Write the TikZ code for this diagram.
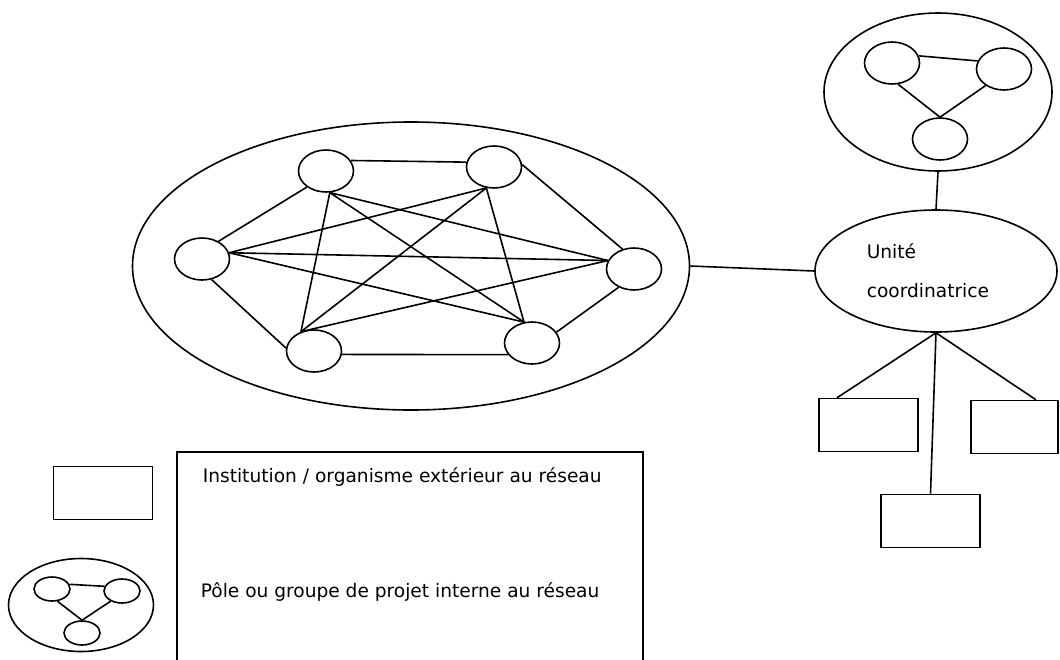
\documentclass[tikz,border=0pt]{standalone}
\usepackage{fontspec}
\setmainfont{DejaVu Sans}
\usetikzlibrary{shapes.geometric}
\begin{document}
\begin{tikzpicture}[x=1pt, y=-1pt, line width=1.6pt,
    pole/.style={draw, ellipse, minimum width=55pt, minimum height=42pt, inner sep=0pt},
    minipole/.style={draw, ellipse, minimum width=36pt, minimum height=24pt, inner sep=0pt},
    institution/.style={draw, rectangle, minimum width=99pt, minimum height=53pt, inner sep=0pt},
    legendtext/.style={anchor=base west, inner sep=0pt, font=\fontsize{18.6}{22}\selectfont}]
  \useasboundingbox (0,0) rectangle (1060,659);
  % reseau des poles
  \node[draw, ellipse, minimum width=557pt, minimum height=288pt] (reseau) at (411,266) {};
  \node[pole] (A) at (326,171) {};
  \node[pole] (B) at (494,167) {};
  \node[pole] (C) at (202,259) {};
  \node[pole] (D) at (634,269) {};
  \node[pole] (E) at (314,351) {};
  \node[pole] (F) at (532,343) {};
  \draw (A.23) -- (B.170);
  \draw (A.220) -- (C.47);
  \draw (C.-65) -- (E.174);
  \draw (E.-7) -- (F.206);
  \draw (B.5) -- (D.120);
  \draw (D.230) -- (F.24);
  \foreach \from/\to in {A.-80/E.124, A.-80/D.162, A.-80/F.111, C.13/B.250, C.13/D.162,
      C.13/F.111, E.124/B.250, E.124/D.162, B.250/F.111}
    \draw (\from) -- (\to);
  % pole de l'unite
  \node[draw, ellipse, minimum width=228pt, minimum height=158pt] (pole) at (938,92) {};
  \node[pole] (G1) at (892,63) {};
  \node[pole] (G2) at (1004,69) {};
  \node[pole] (G3) at (940,139) {};
  \draw (G1.15) -- (G2.163);
  \draw (G1.-74) -- (G3.north);
  \draw (G2.222) -- (G3.north);
  % unite coordinatrice
  \node[draw, ellipse, minimum width=242pt, minimum height=122pt] (unite) at (936,271) {};
  \node[legendtext] (unite1) at (866,258) {Unité};
  \node[legendtext] (unite2) at (866,297) {coordinatrice};
  \draw (pole.south) -- (unite.north);
  \draw (reseau.east) -- (unite.west);
  \node[institution] (X1) at (868.5,425) {};
  \node[institution, minimum width=87pt] (X2) at (1014.5,427) {};
  \node[institution] (X3) at (930.5,521) {};
  \draw (unite.south) -- (X1.139);
  \draw (unite.south) -- (X2.52);
  \draw (unite.south) -- (X3.north);
  % legende
  \node[institution] (legendbox) at (103,493) {};
  \node[draw, ellipse, minimum width=145pt, minimum height=93pt] (legendpole) at (81,605) {};
  \node[minipole] (L1) at (52,589) {};
  \node[minipole] (L2) at (122,591) {};
  \node[minipole] (L3) at (82,633) {};
  \draw (L1.15) -- (L2.165);
  \draw (L1.-66) -- (L3.north);
  \draw (L2.222) -- (L3.north);
  \draw (177,452) rectangle (643,665);
  \node[legendtext] (insttext) at (202,482) {Institution / organisme extérieur au réseau};
  \node[legendtext] (poletext) at (200,597) {Pôle ou groupe de projet interne au réseau};
\end{tikzpicture}
\end{document}
